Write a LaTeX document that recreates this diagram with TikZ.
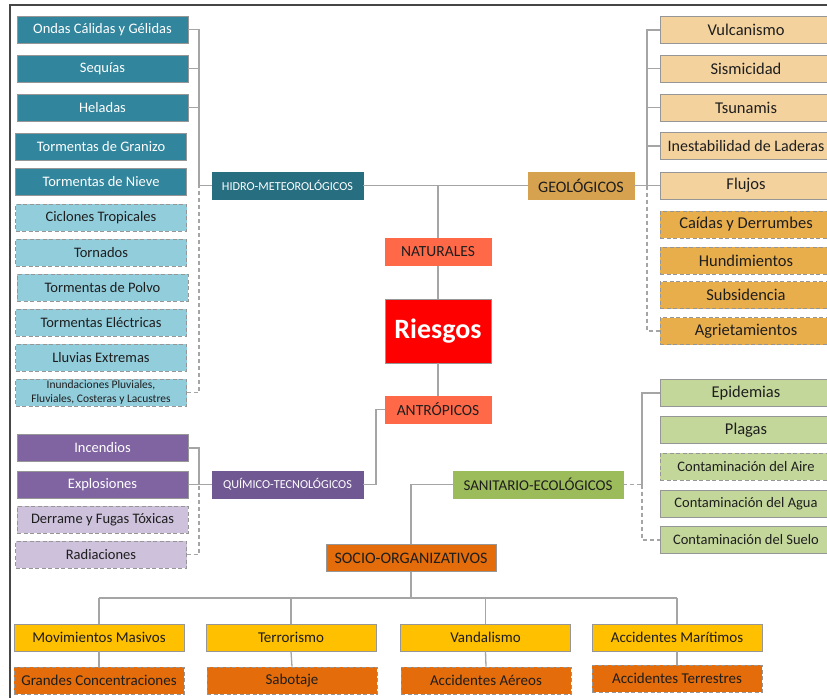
\documentclass[tikz,border=0pt]{standalone}
\usepackage{fontspec}
\setmainfont{Carlito}
\definecolor{tealD}{RGB}{49,133,156}
\definecolor{hidroC}{RGB}{38,110,128}
\definecolor{tealL}{RGB}{146,205,220}
\definecolor{geoL}{RGB}{243,210,158}
\definecolor{geoM}{RGB}{233,174,76}
\definecolor{geoC}{RGB}{214,162,80}
\definecolor{natC}{RGB}{255,105,72}
\definecolor{riesC}{RGB}{255,0,0}
\definecolor{purD}{RGB}{128,100,162}
\definecolor{quimC}{RGB}{112,88,146}
\definecolor{purL}{RGB}{205,193,219}
\definecolor{grnL}{RGB}{196,215,155}
\definecolor{sanC}{RGB}{156,187,90}
\definecolor{yelC}{RGB}{255,192,0}
\definecolor{orgC}{RGB}{228,108,10}
\definecolor{lineC}{RGB}{165,165,165}
\definecolor{edgeC}{RGB}{150,150,150}
\definecolor{txtD}{RGB}{30,30,30}
\definecolor{frameC}{RGB}{70,70,70}
\newcommand\fsz[2]{\fontsize{#1}{#2}\selectfont}
\tikzset{
  box/.style={draw=edgeC, line width=0.8pt, inner sep=0pt, align=center, text=txtD, minimum height=27pt},
  dashbox/.style={dash pattern=on 4pt off 2.5pt},
  leftbox/.style={box, minimum width=171pt, font=\fsz{14.5}{16}},
  tealbox/.style={leftbox, fill=tealD, text=white},
  tealdash/.style={leftbox, dashbox, fill=tealL},
  purbox/.style={leftbox, fill=purD, text=white},
  purdash/.style={leftbox, dashbox, fill=purL},
  rightbox/.style={box, minimum width=172pt, font=\fsz{16.5}{18}},
  geobox/.style={rightbox, fill=geoL},
  geodash/.style={rightbox, dashbox, fill=geoM},
  grnbox/.style={rightbox, fill=grnL},
  catbox/.style={box, minimum width=151pt, font=\fsz{12.2}{14}, text=white},
  midbox/.style={box, minimum width=106pt, fill=natC, draw=natC, font=\fsz{15.5}{17}},
  botbox/.style={box, minimum width=170pt, font=\fsz{15}{17}},
  conn/.style={draw=lineC, line width=1.3pt},
  conndash/.style={conn, dash pattern=on 4pt off 3pt},
}
\begin{document}
\begin{tikzpicture}[x=1pt, y=-1pt]
\clip (0,0) rectangle (827,698);
\fill[white] (0,0) rectangle (827,698);
% outer frame
\draw[frameC, line width=1.5pt] (10,698) -- (10,5) -- (827,5);

% bus columns and rows
\coordinate (hbus) at (199,0);
\coordinate (gbus) at (647,0);
\coordinate (abus) at (376,0);
\coordinate (sbus) at (642,0);
\coordinate (bbus) at (0,598);

% ---- hydro-meteorological branch
\node[tealbox] (ondas)   at (102.5,29.5)  {Ondas Cálidas y Gélidas};
\node[tealbox] (sequias) at (102.5,68.5)  {Sequías};
\node[tealbox] (heladas) at (102.5,107.5) {Heladas};
\node[tealbox] (granizo) at (101,147)     {Tormentas de Granizo};
\node[tealbox] (nieve)   at (101,182)     {Tormentas de Nieve};
\node[tealdash] (ciclon) at (101,217.5)   {Ciclones Tropicales};
\node[tealdash] (tornad) at (101,252.5)   {Tornados};
\node[tealdash] (polvo)  at (102.5,287.5) {Tormentas de Polvo};
\node[tealdash] (electr) at (101,322.5)   {Tormentas Eléctricas};
\node[tealdash] (lluvia) at (101,357.5)   {Lluvias Extremas};
\node[tealdash, font=\fsz{11.5}{14.5}] (inund) at (101,392.5)
  {Inundaciones Pluviales,\\Fluviales, Costeras y Lacustres};
\node[catbox, fill=hidroC, draw=hidroC] (hidro) at (287.5,185.5) {HIDRO-METEOROLÓGICOS};

% ---- geological branch
\node[geobox] (vulc)   at (746,30)    {Vulcanismo};
\node[geobox] (sism)   at (746,68.5)  {Sismicidad};
\node[geobox] (tsun)   at (746,107.5) {Tsunamis};
\node[geobox, font=\fsz{16}{18}] (inest) at (746,146) {Inestabilidad de Laderas};
\node[geobox] (flujos) at (746,185.5) {Flujos};
\node[geodash] (caidas) at (746,224.5) {Caídas y Derrumbes};
\node[geodash] (hundim) at (746,260.5) {Hundimientos};
\node[geodash] (subsid) at (746,295)   {Subsidencia};
\node[geodash] (agriet) at (746,331)   {Agrietamientos};
\node[box, minimum width=106pt, fill=geoC, draw=geoC, font=\fsz{16}{18}] (geo) at (581,185.5) {GEOLÓGICOS};

% ---- centre
\node[midbox] (natur) at (438,252) {NATURALES};
\node[box, minimum width=106pt, minimum height=64pt, fill=riesC, draw=edgeC,
      text=white, font=\fsz{28}{30}\bfseries] (riesgos) at (438,331) {Riesgos};
\node[midbox] (antro) at (438,409.5) {ANTRÓPICOS};

% ---- chemical-technological branch
\node[purbox] (incend) at (102.5,448)   {Incendios};
\node[purbox] (explos) at (102.5,484.5) {Explosiones};
\node[purdash] (derram) at (102.5,519.5) {Derrame y Fugas Tóxicas};
\node[purdash] (radiac) at (101,554.5)   {Radiaciones};
\node[catbox, fill=quimC, draw=quimC] (quim) at (287.5,484.5) {QUÍMICO-TECNOLÓGICOS};

% ---- sanitary-ecological branch
\node[grnbox] (epid)   at (746,393)   {Epidemias};
\node[grnbox] (plagas) at (746,430)   {Plagas};
\node[grnbox, dashbox, font=\fsz{14.5}{16}] (aire)  at (746,466.5) {Contaminación del Aire};
\node[grnbox, font=\fsz{14.5}{16}] (agua)  at (746,504) {Contaminación del Agua};
\node[grnbox, font=\fsz{14.5}{16}] (suelo) at (746,540) {Contaminación del Suelo};
\node[box, minimum width=170pt, fill=sanC, draw=sanC, font=\fsz{15}{17}] (sanit) at (538,484.5) {SANITARIO-ECOLÓGICOS};

% ---- socio-organisational branch
\node[box, minimum width=170pt, fill=orgC, draw=edgeC, font=\fsz{16}{18}] (socio) at (411,558) {SOCIO-ORGANIZATIVOS};
\node[botbox, fill=yelC] (movim) at (99,637.5)    {Movimientos Masivos};
\node[botbox, fill=yelC] (terror) at (291,637.5)  {Terrorismo};
\node[botbox, fill=yelC] (vandal) at (485.5,637.5) {Vandalismo};
\node[botbox, fill=yelC] (marit) at (677,637.5)   {Accidentes Marítimos};
\node[botbox, dashbox, fill=orgC] (grandes) at (99,680.5)  {Grandes Concentraciones};
\node[botbox, dashbox, fill=orgC] (sabot)   at (292,680.5) {Sabotaje};
\node[botbox, dashbox, fill=orgC] (aereos)  at (486,680.5) {Accidentes Aéreos};
\node[botbox, dashbox, fill=orgC] (terrest) at (677,678.5) {Accidentes Terrestres};

% ================= connectors
% hydro-meteorological
\draw[conn] (ondas.east) -- (ondas.east -| hbus) |- (hidro.west);
\draw[conn] (sequias.east) -- (sequias.east -| hbus);
\draw[conn] (heladas.east) -- (heladas.east -| hbus);
\draw[conndash] (inund.east) -- (inund.east -| hbus) -- (hbus |- hidro.west);
% natural / geological
\draw[conn] (hidro.east) -- (geo.west);
\draw[conn] (natur.north) -- (natur.north |- hidro.east);
\draw[conn] (natur.south) -- (riesgos.north);
\draw[conn] (riesgos.south) -- (antro.north);
\draw[conn] (geo.east) -- (flujos.west);
\draw[conn] (geo.east -| gbus) |- (vulc.west);
\draw[conn] (gbus |- sism.west) -- (sism.west);
\draw[conn] (gbus |- tsun.west) -- (tsun.west);
\draw[conn] (gbus |- inest.west) -- (inest.west);
\draw[conndash] (geo.east -| gbus) |- (agriet.west);
% anthropic / chemical
\draw[conn] (antro.west) -- (antro.west -| abus) |- (quim.east);
\draw[conn] (incend.east) -- (incend.east -| hbus) |- (quim.west);
\draw[conn] (explos.east) -- (quim.west);
\draw[conndash] (radiac.east) -- (radiac.east -| hbus) -- (hbus |- quim.west);
% sanitary / socio-organisational
\draw[conn] (sanit.west) -| (socio.north);
\draw[conndash] (sanit.east) -- (sanit.east -| sbus);
\draw[conn] (sanit.east -| sbus) |- (epid.west);
\draw[conndash] (sanit.east -| sbus) |- (suelo.west);
\draw[conn] (socio.south) -- (socio.south |- bbus);
\draw[conn] (movim.north |- bbus) -- (marit.north |- bbus);
\draw[conn] (movim.north) -- (movim.north |- bbus);
\draw[conn] (terror.north) -- (terror.north |- bbus);
\draw[conn] (vandal.north) -- (vandal.north |- bbus);
\draw[conn] (marit.north) -- (marit.north |- bbus);
\draw[conn] (movim.south) -- (grandes.north);
\draw[conn] (terror.south) -- (sabot.north);
\draw[conn] (vandal.south) -- (aereos.north);
\draw[conn] (marit.south) -- (terrest.north);
\end{tikzpicture}
\end{document}
